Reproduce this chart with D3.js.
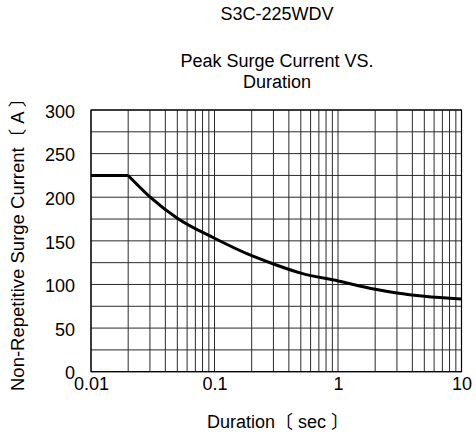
<!DOCTYPE html>
<html>
<head>
<meta charset="utf-8">
<script src="https://cdn.jsdelivr.net/npm/d3@7"></script>
<style>
    body { margin: 0; background: #fff; }
    text { font-family: "Liberation Sans", Arial, "Noto Sans CJK JP", sans-serif; fill: #000; }
</style>
</head>
<body>
<div id="container"></div>
<script>
// chart data
const durations = [0.01, 0.02, 0.03, 0.05, 0.1, 0.2, 0.3, 0.5, 1, 2, 3, 5, 10];
const currents  = [225, 225, 200.5, 176, 153, 133, 123.5, 113, 104, 94.5, 90.2, 86.4, 83.3];
const xTicks = [0.01, 0.1, 1, 10];
const xTickLabels = ["0.01", "0.1", "1", "10"];
const yTicks = [0, 50, 100, 150, 200, 250, 300];

const width = 476;
const height = 440;
const marginTop = 110;
const marginRight = 14.5;
const marginBottom = 68.3;
const marginLeft = 91;

const x = d3.scaleLog()
    .domain([0.01, 10])
    .range([marginLeft, width - marginRight]);

const y = d3.scaleLinear()
    .domain([0, 300])
    .range([height - marginBottom, marginTop]);

const svg = d3.create("svg")
    .attr("width", width)
    .attr("height", height);

// titles
svg.append("text")
    .attr("x", 277).attr("y", 20)
    .attr("text-anchor", "middle")
    .style("font-size", "18px")
    .text("S3C-225WDV");

svg.append("text")
    .attr("x", 277).attr("y", 67)
    .attr("text-anchor", "middle")
    .style("font-size", "18px")
    .text("Peak Surge Current VS.");

svg.append("text")
    .attr("x", 277).attr("y", 88)
    .attr("text-anchor", "middle")
    .style("font-size", "18px")
    .text("Duration");

// grid: every minor decade line, and every 25 A
const xGrid = [];
for (let dec = 0.01; dec < 10; dec *= 10) {
    for (let k = 1; k < 10; k++) xGrid.push(+(dec * k).toPrecision(3));
}
xGrid.push(10);
const yGrid = d3.range(0, 301, 25);

svg.append("g")
    .selectAll("line")
    .data(xGrid)
    .join("line")
    .attr("x1", d => x(d)).attr("x2", d => x(d))
    .attr("y1", y(0)).attr("y2", y(300))
    .attr("stroke", "#2a2a2a")
    .attr("stroke-width", 1);

svg.append("g")
    .selectAll("line")
    .data(yGrid)
    .join("line")
    .attr("x1", x(0.01)).attr("x2", x(10))
    .attr("y1", d => y(d)).attr("y2", d => y(d))
    .attr("stroke", "#2a2a2a")
    .attr("stroke-width", 1);

// frame
svg.append("rect")
    .attr("x", x(0.01)).attr("y", y(300))
    .attr("width", x(10) - x(0.01))
    .attr("height", y(0) - y(300))
    .attr("fill", "none")
    .attr("stroke", "#000")
    .attr("stroke-width", 1.2);

// x axis labels
const xAxis = svg.append("g")
    .attr("transform", `translate(0,${y(0)})`)
    .call(d3.axisBottom(x).tickValues(xTicks).tickFormat((d, i) => xTickLabels[i]).tickSize(0).tickPadding(6));
xAxis.select(".domain").remove();
xAxis.selectAll("text").style("font-size", "18px").attr("dy", "0.71em");

// y axis labels
const yAxis = svg.append("g")
    .attr("transform", `translate(${marginLeft},0)`)
    .call(d3.axisLeft(y).tickValues(yTicks).tickSize(0).tickPadding(16));
yAxis.select(".domain").remove();
yAxis.selectAll("text").style("font-size", "18px").attr("dy", "0.4em");

// axis titles
svg.append("text")
    .attr("x", 278).attr("y", 428)
    .attr("text-anchor", "middle")
    .style("font-size", "18px")
    .text("Duration〔 sec 〕");

svg.append("text")
    .attr("transform", `translate(24,${(y(0) + y(300)) / 2 - 1}) rotate(-90)`)
    .attr("text-anchor", "middle")
    .style("font-size", "18.5px")
    .text("Non-Repetitive Surge Current〔 A 〕");

// curve: flat plateau, then smooth decay
const plateau = durations.map((d, i) => [d, currents[i]]).filter(p => p[0] <= 0.02);
const decay = durations.map((d, i) => [d, currents[i]]).filter(p => p[0] >= 0.02);

svg.append("path")
    .datum(plateau)
    .attr("fill", "none")
    .attr("stroke", "#000")
    .attr("stroke-width", 3)
    .attr("d", d3.line().x(d => x(d[0])).y(d => y(d[1])));

svg.append("path")
    .datum(decay)
    .attr("fill", "none")
    .attr("stroke", "#000")
    .attr("stroke-width", 3)
    .attr("d", d3.line().curve(d3.curveMonotoneX).x(d => x(d[0])).y(d => y(d[1])));

container.append(svg.node());
</script>
</body>
</html>
